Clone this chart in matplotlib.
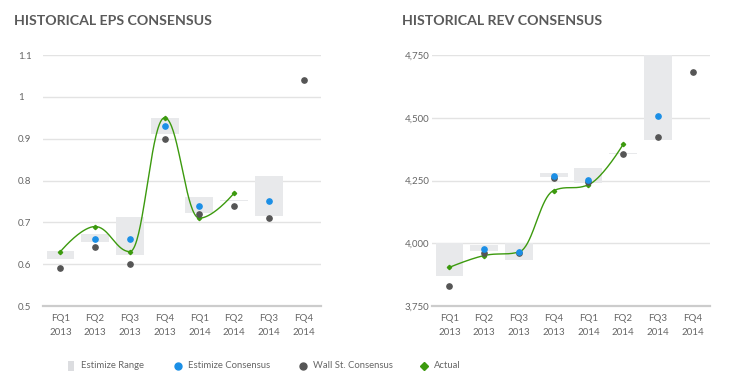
import matplotlib
matplotlib.use("Agg")
import matplotlib.pyplot as plt
import numpy as np

plt.rcParams['font.family'] = ['Lato', 'DejaVu Sans']

quarters = ["FQ1\n2013", "FQ2\n2013", "FQ3\n2013", "FQ4\n2013",
            "FQ1\n2014", "FQ2\n2014", "FQ3\n2014", "FQ4\n2014"]

# EPS (None = no value)
eps_low = [0.612, 0.653, 0.622, 0.912, 0.722, 0.750, 0.714, None]
eps_high = [0.632, 0.672, 0.713, 0.950, 0.761, 0.754, 0.811, None]
eps_estimize = [None, 0.66, 0.66, 0.93, 0.74, None, 0.75, None]
eps_wallst = [0.59, 0.64, 0.60, 0.90, 0.72, 0.74, 0.71, 1.04]
eps_actual = [0.63, 0.69, 0.63, 0.95, 0.71, 0.77, None, None]

# Revenue
rev_low = [3868, 3969, 3932, 4263, 4241, 4356, 4412, None]
rev_high = [4000, 3992, 4002, 4278, 4298, 4360, 4750, None]
rev_estimize = [None, 3979, 3967, 4267, 4251, None, 4508, None]
rev_wallst = [3830, 3961, 3963, 4262, 4245, 4354, 4423, 4681]
rev_actual = [3904, 3951, 3965, 4210, 4233, 4394, None, None]

legend_labels = ["Estimize Range", "Estimize Consensus", "Wall St. Consensus", "Actual"]

C_RANGE = "#e8e9eb"
C_BLUE = "#1b8fe6"
C_GRAY = "#555555"
C_GREEN = "#3c9a0e"
C_TEXT = "#666666"


def spline(xs, ys, steps=40):
    # highcharts-like smoothing of the actual line
    n = len(xs)
    sm = 1.5
    den = sm + 1
    lc = [None] * n
    rc = [None] * n
    for i in range(n):
        if 0 < i < n - 1:
            px, py = xs[i], ys[i]
            lx, ly = xs[i - 1], ys[i - 1]
            nx, ny = xs[i + 1], ys[i + 1]
            lcx = (sm * px + lx) / den
            lcy = (sm * py + ly) / den
            rcx = (sm * px + nx) / den
            rcy = (sm * py + ny) / den
            corr = (rcy - lcy) * (rcx - px) / (rcx - lcx) + py - rcy
            lcy += corr
            rcy += corr
            if lcy > ly and lcy > py:
                lcy = max(ly, py); rcy = 2 * py - lcy
            elif lcy < ly and lcy < py:
                lcy = min(ly, py); rcy = 2 * py - lcy
            if rcy > ny and rcy > py:
                rcy = max(ny, py); lcy = 2 * py - rcy
            elif rcy < ny and rcy < py:
                rcy = min(ny, py); lcy = 2 * py - rcy
            lc[i] = (lcx, lcy)
            rc[i] = (rcx, rcy)
    outx, outy = [xs[0]], [ys[0]]
    t = np.linspace(0, 1, steps)[1:]
    for i in range(1, n):
        p0 = (xs[i - 1], ys[i - 1])
        p1 = rc[i - 1] if rc[i - 1] else p0
        p3 = (xs[i], ys[i])
        p2 = lc[i] if lc[i] else p3
        bx = (1 - t) ** 3 * p0[0] + 3 * (1 - t) ** 2 * t * p1[0] + 3 * (1 - t) * t ** 2 * p2[0] + t ** 3 * p3[0]
        by = (1 - t) ** 3 * p0[1] + 3 * (1 - t) ** 2 * t * p1[1] + 3 * (1 - t) * t ** 2 * p2[1] + t ** 3 * p3[1]
        outx.extend(bx)
        outy.extend(by)
    return outx, outy


def panel(ax, low, high, est, wall, actual, ylim, ticks, fmt):
    x = np.arange(len(quarters))
    for i in x:
        if low[i] is not None:
            ax.bar(i, high[i] - low[i], bottom=low[i], width=0.8,
                   color=C_RANGE, zorder=1)
    ax_x = [i for i in x if actual[i] is not None]
    ax_y = [actual[i] for i in ax_x]
    sx, sy = spline(ax_x, ax_y)
    ax.plot(sx, sy, color=C_GREEN, lw=1.0, zorder=3)
    ax.plot(ax_x, ax_y, 'D', color=C_GREEN, ms=2.2, zorder=3)
    wx = [i for i in x if wall[i] is not None]
    ax.plot(wx, [wall[i] for i in wx], 'o', color=C_GRAY, ms=3.8, zorder=4)
    ex = [i for i in x if est[i] is not None]
    ax.plot(ex, [est[i] for i in ex], 'o', color=C_BLUE, ms=3.8, zorder=5)

    ax.set_xlim(-0.5, 7.5)
    ax.set_ylim(*ylim)
    ax.set_yticks(ticks)
    ax.set_yticklabels([fmt(v) for v in ticks])
    ax.set_xticks(x)
    ax.set_xticklabels(quarters, linespacing=1.7)
    ax.grid(axis='y', color="#e3e3e3", lw=1)
    ax.set_axisbelow(True)
    for s in ['top', 'right', 'left']:
        ax.spines[s].set_visible(False)
    ax.spines['bottom'].set_color("#cccccc")
    ax.spines['bottom'].set_linewidth(1.6)
    ax.tick_params(length=0, labelsize=7, colors=C_TEXT, pad=6)
    ax.tick_params(axis='y', pad=2)


fig = plt.figure(figsize=(7.33, 3.84), dpi=100)
ax1 = fig.add_axes([0.0587, 0.2031, 0.3792, 0.6536])
ax2 = fig.add_axes([0.5894, 0.2031, 0.3792, 0.6536])

panel(ax1, eps_low, eps_high, eps_estimize, eps_wallst, eps_actual,
      (0.5, 1.1), [0.5, 0.6, 0.7, 0.8, 0.9, 1.0, 1.1],
      lambda v: ("%g" % v))
panel(ax2, rev_low, rev_high, rev_estimize, rev_wallst, rev_actual,
      (3750, 4750), [3750, 4000, 4250, 4500, 4750],
      lambda v: "{:,}".format(v))
# EPS axis labels are left aligned
for lab in ax1.get_yticklabels():
    lab.set_horizontalalignment('left')
ax1.tick_params(axis='y', pad=18)

fig.text(0.019, 0.945, "HISTORICAL EPS CONSENSUS", fontsize=10.2, fontweight='bold',
         color="#5a5a5a", va='center')
fig.text(0.549, 0.945, "HISTORICAL REV CONSENSUS", fontsize=10.2, fontweight='bold',
         color="#5a5a5a", va='center')

# legend row drawn in its own axes (pixel-like coordinates)
lg = fig.add_axes([0, 0, 1, 0.1])
lg.set_xlim(0, 733)
lg.set_ylim(0, 38.4)
lg.axis('off')
leg_x = [71, 178, 303, 424]
leg_style = [(None, "#dcdde0", 0), ('o', C_BLUE, 5), ('o', C_GRAY, 5), ('D', C_GREEN, 4)]
for xi, (m, c, s), lab in zip(leg_x, leg_style, legend_labels):
    if m is None:
        lg.bar(xi, 10, bottom=13.3, width=6, color=c)
    else:
        lg.plot([xi], [18.3], marker=m, color=c, ms=s, ls='')
    lg.text(xi + 10, 18.3, lab, fontsize=6.8, color=C_TEXT, va='center')

fig.savefig("out.png", dpi=100)
